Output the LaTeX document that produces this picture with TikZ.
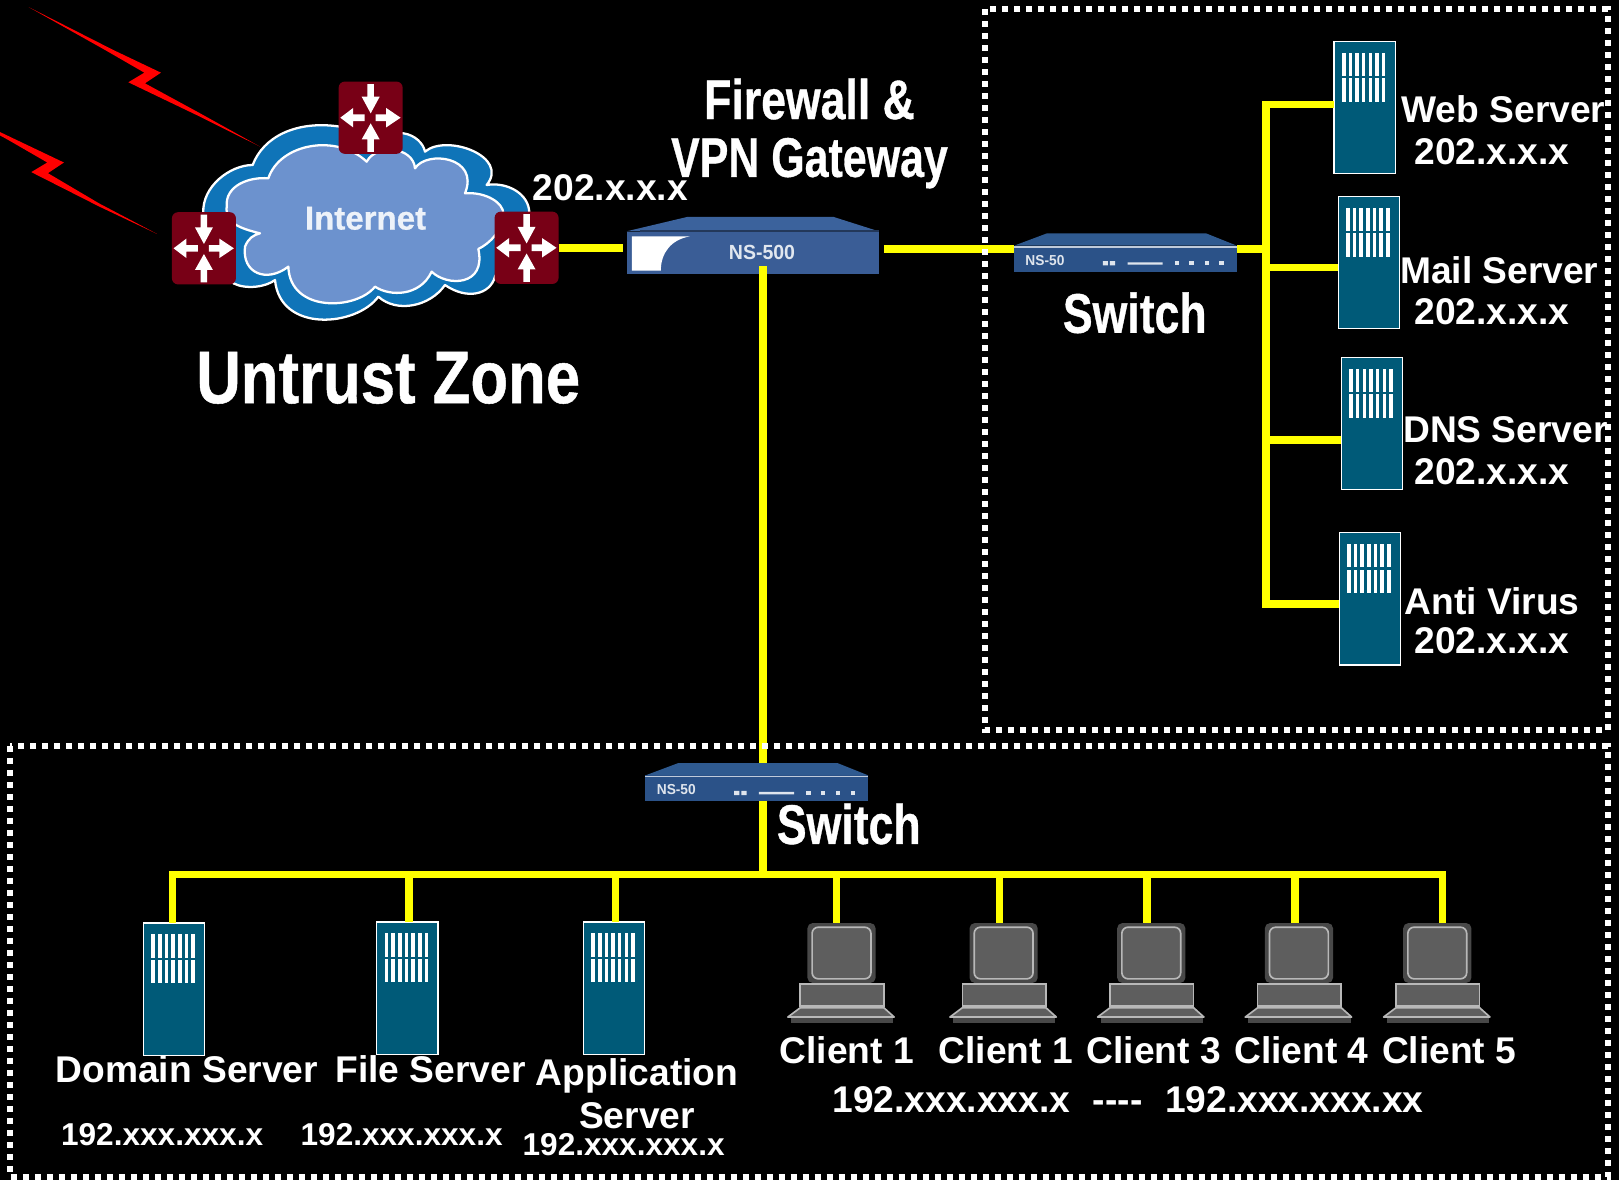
\documentclass[tikz,border=0pt]{standalone}
\usepackage{fontspec}
\usepackage{graphicx}
\setmainfont{Liberation Sans}
\newfontfamily\headf[BoldFeatures={FakeBold=.7}]{Liberation Sans}
\definecolor{wireY}{HTML}{FFFF00}
\definecolor{srvC}{HTML}{005A78}
\definecolor{routC}{HTML}{780016}
\definecolor{cloudO}{HTML}{0F74B8}
\definecolor{cloudI}{HTML}{6C92CE}
\definecolor{swBody}{HTML}{2B5288}
\definecolor{swTop}{HTML}{2F5A90}
\definecolor{fwBody}{HTML}{3A5D96}
\definecolor{fwTop}{HTML}{3B629C}
\definecolor{pcF}{HTML}{5E5E5E}
\definecolor{pcH}{HTML}{484848}
\definecolor{pcL}{HTML}{B8B8B8}
\tikzset{
 wire/.style={draw=wireY,line width=3.6pt},
 dotbox/.style={draw=white,line width=2.9pt,dash pattern=on 2.905pt off 2.905pt},
 srvbox/.style={draw=white,line width=.6pt,fill=srvC,minimum width=29.6pt,minimum height=64pt,inner sep=0pt,outer sep=0pt},
 rout/.style={fill=routC,rounded corners=3pt,minimum width=31pt,minimum height=35pt,inner sep=0pt,outer sep=0pt},
 swbox/.style={fill=swBody,minimum width=108pt,minimum height=12.5pt,inner sep=0pt,outer sep=0pt},
 fwbox/.style={fill=fwBody,minimum width=122pt,minimum height=20.5pt,inner sep=0pt,outer sep=0pt},
 pcbox/.style={minimum width=33pt,minimum height=29pt,inner sep=0pt,outer sep=0pt},
 lbl/.style={text=white,inner sep=0pt,font=\bfseries\fontsize{18}{20}\selectfont},
 lblS/.style={text=white,inner sep=0pt,font=\bfseries\fontsize{15.3}{17}\selectfont},
 head/.style={text=white,inner sep=0pt,font=\headf\bfseries\fontsize{27}{30}\selectfont},
 cloudline/.style={draw=white,line width=1.1pt,line join=round},
}
% router: name, cx, cy
\newcommand{\routerbox}[3]{%
 \node[rout] (#1) at (#2,#3) {};
 \begin{scope}[shift={(#2,#3)}]
  \fill[white] (-3.2,-32.6)--(3.2,-32.6)--(3.2,-20.3)--(8.7,-20.3)--(0,-4.2)--(-8.7,-20.3)--(-3.2,-20.3)--cycle;
  \fill[white] (-3.2,33)--(3.2,33)--(3.2,21)--(8.7,21)--(0,5.5)--(-8.7,21)--(-3.2,21)--cycle;
  \fill[white] (-5.8,-3.2)--(-5.8,3.2)--(-17,3.2)--(-17,9.4)--(-29.4,0)--(-17,-9.4)--(-17,-3.2)--cycle;
  \fill[white] (4.8,-3.2)--(4.8,3.2)--(15,3.2)--(15,9.4)--(29,0)--(15,-9.4)--(15,-3.2)--cycle;
 \end{scope}}
% server: name, left, top
\newcommand{\serverbox}[3]{%
 \node[srvbox,anchor=north west] (#1) at (#2,#3) {};
 \begin{scope}[shift={(#2,#3)}]
  \foreach \k in {0,...,6}{
   \fill[white] (7.7+6.45*\k,11) rectangle +(3.4,22.5);
   \fill[white] (7.7+6.45*\k,36) rectangle +(3.4,22.5);
  }
 \end{scope}}
% client: name, centre x of monitor; top 894
\newcommand{\clientbox}[2]{%
 \node[pcbox,anchor=north] (#1) at (#2,894) {};
 \begin{scope}[shift={(#2,894)}]
  \fill[pcH,rounded corners=2.5pt] (-33,0) rectangle (33,58);
  \draw[pcL,fill=pcF,line width=.8pt,rounded corners=3pt] (-28.5,4) rectangle (28.5,54);
  \draw[pcL,fill=pcF,line width=.8pt] (-40,59) rectangle (41,80);
  \draw[pcL,fill=pcF,line width=.8pt,line join=round] (-40,82) -- (41,82) -- (51,91) -- (-52,91) -- cycle;
  \fill[pcH] (-49,91.5) rectangle (50,97);
 \end{scope}}
% small switch: name, left, top
\newcommand{\swunit}[3]{%
 \begin{scope}[shift={(#2,#3)}]
  \fill[swTop] (0,12) -- (32,0) -- (186,0) -- (216,12) -- cycle;
  \node[swbox,anchor=north west] (#1) at (0,12) {};
  \draw[line width=.9pt,draw=white!70!swBody] (0,13) -- (216,13);
  \node[inner sep=0pt,text=white!85!swBody,font=\bfseries\fontsize{7}{8}\selectfont] (#1t) at (30,26) {\scalebox{.95}[1]{NS-50}};
  \fill[white!85!swBody] (86,27) rectangle +(5,4) (93,27) rectangle +(5,4) (110,28) rectangle +(34,2.4);
  \foreach \q in {156,170,185,199} \fill[white!85!swBody] (\q,27) rectangle +(4,4);
 \end{scope}}
\begin{document}
\begin{tikzpicture}[x=.5pt,y=-.5pt]
\useasboundingbox (0,0) rectangle (1568,1143);
\fill[black] (0,0) rectangle (1568,1143);

% lightning
\fill[red] (28,7)--(109.7,48.4)--(155.9,70.4)--(140.4,80.7)--(193.7,109.7)--(251.8,142)--(193.7,113)--(124.3,79.7)--(139.8,70.4)--(101.7,48.4)--cycle;
\fill[red] (-4,126)--(15.7,135.4)--(61.9,157.4)--(46.4,167.7)--(96,197)--(152,226.5)--(96,200)--(30.3,166.7)--(45.8,157.4)--(7.7,135.4)--(-4,129)--cycle;

% cloud, in crop coordinates
\begin{scope}[shift={(164.65,67.8)},x=.1614pt,y=-.1614pt]
 \path[fill=cloudO,cloudline] (100,430)
   .. controls (95,350) and (180,285) .. (248,285)
   .. controls (280,200) and (380,150) .. (510,170)
   -- (700,190)
   .. controls (735,195) and (760,220) .. (765,245)
   .. controls (830,190) and (1020,260) .. (950,345)
   .. controls (1010,335) and (1078,370) .. (1078,430)
   -- (975,620)
   .. controls (960,675) and (890,690) .. (825,645)
   .. controls (780,710) and (680,730) .. (625,680)
   .. controls (560,770) and (330,790) .. (315,630)
   .. controls (290,650) and (230,660) .. (190,640)
   -- cycle;
 \path[fill=cloudI,cloudline] (170,410)
   .. controls (165,345) and (240,320) .. (295,325)
   .. controls (330,220) and (500,190) .. (590,275)
   .. controls (620,220) and (730,230) .. (735,295)
   .. controls (770,240) and (930,260) .. (885,370)
   .. controls (950,365) and (1000,400) .. (1000,430)
   .. controls (1000,480) and (960,520) .. (925,537)
   .. controls (950,650) and (830,650) .. (785,605)
   .. controls (750,680) and (660,680) .. (615,650)
   .. controls (560,720) and (360,730) .. (355,590)
   .. controls (290,640) and (215,610) .. (225,530)
   .. controls (235,505) and (250,495) .. (270,490)
   .. controls (210,475) and (165,460) .. (170,410)
   -- cycle;
\end{scope}
\node[inner sep=0pt,text=white!88!cloudI,font=\headf\bfseries\fontsize{16}{18}\selectfont] (inet) at (354,211.5) {Internet};

% coordinates for connector runs
\coordinate (h1) at (856,241);
\coordinate (v1) at (739,258);
\coordinate (bj) at (739,847);
\coordinate (bl) at (167,847);
\coordinate (br) at (1397,847);
\coordinate (rt) at (1226,101);
\coordinate (rb) at (1226,585);
\coordinate (rm) at (1226,241);
\coordinate (rmail) at (1226,259);
\coordinate (rdns) at (1226,426);
\coordinate (d4) at (810,847);
\coordinate (d5) at (968,847);
\coordinate (d6) at (1111,847);
\coordinate (d7) at (1254,847);
\coordinate (d8) at (1397,847);
\coordinate (d2) at (396,847);
\coordinate (d3) at (596,847);

\routerbox{rtop}{359}{114}
\routerbox{rleft}{197.5}{240.5}
\routerbox{rright}{510}{240}

% nodes that connectors land on (drawn first as anchors)
\node[fwbox,anchor=north west,fill=none] (fw) at (607,224) {};
\node[swbox,anchor=north west,fill=none] (swrA) at (982,238) {};
\node[swbox,anchor=north west,fill=none] (swbA) at (625,751) {};

\serverbox{web}{1292}{40}
\serverbox{mail}{1296}{190}
\serverbox{dns}{1299}{346}
\serverbox{av}{1297}{516}
\serverbox{dom}{139}{894}
\serverbox{file}{365}{893}
\serverbox{app}{565}{893}
\clientbox{c1}{815}
\clientbox{c2}{972}
\clientbox{c3}{1115}
\clientbox{c4}{1258}
\clientbox{c5}{1392}

% connectors
\draw[wire] (rright.east) -- ([xshift=-2pt]fw.west |- rright.east);
\draw[wire] (h1) -- (swrA.west |- h1);
\draw[wire] (swrA.east |- rm) -- (rm);
\draw[wire,line cap=rect] (rt) -- (rb);
\draw[wire] (rt) -- (web.west |- rt);
\draw[wire] (rmail) -- (mail.west |- rmail);
\draw[wire] (rdns) -- (dns.west |- rdns);
\draw[wire] (rb) -- (av.west |- rb);
\draw[wire] (v1) -- (bj);
\draw[wire,line cap=rect] (bl) -- (br);
\draw[wire] (bl) -- (bl |- dom.north);
\draw[wire] (d2) -- (d2 |- file.north);
\draw[wire] (d3) -- (d3 |- app.north);
\draw[wire] (d4) -- (d4 |- c1.north);
\draw[wire] (d5) -- (d5 |- c2.north);
\draw[wire] (d6) -- (d6 |- c3.north);
\draw[wire] (d7) -- (d7 |- c4.north);
\draw[wire] (d8) -- (d8 |- c5.north);

% dotted zones
\draw[dotbox] (954,9) rectangle (1557,707);
\draw[dotbox] (9.7,722.5) rectangle (1557,1140);

% firewall
\fill[fwTop] (607,224) -- (666,210) -- (807,210) -- (851,224) -- cycle;
\draw[line width=.8pt,draw=fwBody!60!black] (620,223.5) -- (851,223.5);
\fill[fwBody] (607,224.5) rectangle (851,265);
\fill[white] (612,229) -- (668,229) .. controls (650,232) and (640,245) .. (640,262) -- (612,262) -- cycle;
\node[inner sep=0pt,text=white!85!fwBody,font=\bfseries\fontsize{9}{10}\selectfont] (fwt) at (738,245) {\scalebox{1.05}[1.1]{NS-500}};
\draw[wire] (v1) -- ++(0,12);

\swunit{swr}{982}{226}
\swunit{swb}{625}{739}

% labels
\node[head] (tfw) at (784,96) {\scalebox{.8}[1]{Firewall \&}};
\node[head] (tvpn) at (784,158) {\scalebox{.77}[1]{VPN Gateway}};
\node[lbl] (tip) at (591,182) {202.x.x.x};
\node[text=white,inner sep=0pt,font=\headf\bfseries\fontsize{36}{40}\selectfont] (tun) at (376,366) {\scalebox{.83}[1]{Untrust Zone}};
\node[head] (tsw1) at (1099,303) {\scalebox{.8}[1]{Switch}};
\node[head] (tsw2) at (822,798) {\scalebox{.8}[1]{Switch}};

\node[lbl] (lw) at (1456,106) {Web Server};
\node[lbl] (lwi) at (1445,147) {202.x.x.x};
\node[lbl] (lm) at (1452,262) {Mail Server};
\node[lbl] (lmi) at (1445,302) {202.x.x.x};
\node[lbl] (ld) at (1458,416) {DNS Server};
\node[lbl] (ldi) at (1445,457) {202.x.x.x};
\node[lbl] (la) at (1445,582) {Anti Virus};
\node[lbl] (lai) at (1445,621) {202.x.x.x};

\node[lbl] (ldo) at (181,1036) {Domain Server};
\node[lbl] (lfi) at (417,1036) {File Server};
\node[lbl] (lap) at (617,1042) {Application};
\node[lbl] (lap2) at (617,1081) {Server};
\node[lblS] (ip1) at (157,1099) {192.xxx.xxx.x};
\node[lblS] (ip2) at (389,1099) {192.xxx.xxx.x};
\node[lblS] (ip3) at (604,1109) {192.xxx.xxx.x};
\node[lbl] (cl1) at (820,1017) {Client 1};
\node[lbl] (cl2) at (974,1017) {Client 1};
\node[lbl] (cl3) at (1117.5,1017) {Client 3};
\node[lbl] (cl4) at (1260.5,1017) {Client 4};
\node[lbl] (cl5) at (1403.5,1017) {Client 5};
\node[lbl] (cip) at (1092.5,1065) {192.xxx.xxx.x\hspace{11pt}{-}{-}{-}{-}\hspace{11pt}192.xxx.xxx.xx};
\end{tikzpicture}
\end{document}
